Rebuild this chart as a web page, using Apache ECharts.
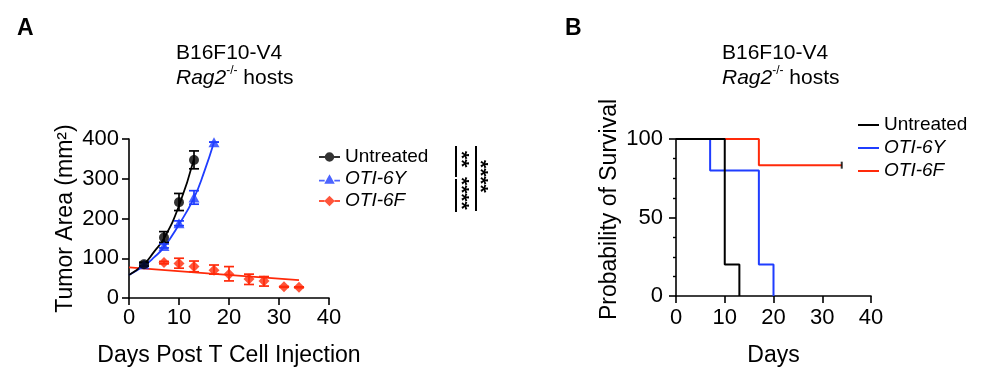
<!DOCTYPE html>
<html>
<head>
<meta charset="utf-8">
<script src="https://cdn.jsdelivr.net/npm/echarts@6/dist/echarts.min.js"></script>
<style>
html,body{margin:0;padding:0;background:#fff;}
#chart{width:1000px;height:384px;}
</style>
</head>
<body>
<div id="chart"></div>
<script>
// ---------- Panel A: tumor growth ----------
const xTicksA = [0, 10, 20, 30, 40];
const yTicksA = [0, 100, 200, 300, 400];

const daysUntreated = [3, 7, 10, 13];
const meanUntreated = [85, 152, 241, 347];
const lowUntreated  = [80, 140, 220, 325];
const highUntreated = [90, 167, 263, 370];

const days6Y = [3, 7, 10, 13, 17];
const mean6Y = [85, 131, 188, 253, 392];
const low6Y  = [82, 126, 182, 236, 392];
const high6Y = [88, 136, 194, 270, 392];

const days6F = [7, 10, 13, 17, 20, 24, 27, 31, 34];
const mean6F = [89, 87, 79, 70, 60, 48, 43, 28, 27];
const low6F  = [86, 75, 66, 60, 43, 34, 30, 27, 26];
const high6F = [92, 100, 93, 83, 79, 60, 54, 29, 28];

// fitted curves, values
const fitDaysUntreated = [0, 3, 5, 7, 10, 13];
const fitUntreated     = [58, 85, 116, 150, 232, 350];
const fitDays6Y = [0, 3, 5, 7, 10, 13, 15, 17];
const fit6Y     = [58, 81, 102, 128, 185, 252, 316, 392];
const fitDays6F = [0, 17, 34];
const fit6F     = [77, 60.5, 45];

// ---------- Panel B: survival ----------
const xTicksB = [0, 10, 20, 30, 40];
const yTicksB = [0, 50, 100];
const survDaysUntreated = [0, 10, 13];
const survUntreated     = [100, 20, 0];
const survDays6Y = [0, 7, 17, 20];
const surv6Y     = [100, 80, 20, 0];
const survDays6F = [0, 17, 34];
const surv6F     = [100, 83.33, 83.33];
const censorDays6F = [34];
const censor6F     = [83.33];

const seriesNames = ['Untreated', 'OTI-6Y', 'OTI-6F'];
const BLACK = '#000000', BLUE = '#1f3dff', RED = '#ff2a0a';
const FONT = '"Liberation Sans", Arial, Helvetica, sans-serif';

const zip = (a, b) => a.map((v, i) => [v, b[i]]);
const zip3 = (a, b, c) => a.map((v, i) => [v, b[i], c[i]]);

function errRender(color) {
  return function (params, api) {
    const x = api.value(0), lo = api.value(1), hi = api.value(2);
    const pLo = api.coord([x, lo]);
    const pHi = api.coord([x, hi]);
    const hw = 5;
    const st = { stroke: color, lineWidth: 1.7 };
    return {
      type: 'group',
      children: [
        { type: 'line', shape: { x1: pLo[0], y1: pLo[1], x2: pHi[0], y2: pHi[1] }, style: st },
        { type: 'line', shape: { x1: pLo[0] - hw, y1: pLo[1], x2: pLo[0] + hw, y2: pLo[1] }, style: st },
        { type: 'line', shape: { x1: pHi[0] - hw, y1: pHi[1], x2: pHi[0] + hw, y2: pHi[1] }, style: st }
      ]
    };
  };
}

const iconCircle = 'path://M0,4.1h5.6v1.8H0z M14.4,4.1H20v1.8h-5.6z M5.5,5a4.5,4.5 0 1,1 9,0a4.5,4.5 0 1,1 -9,0z';
const iconTri = 'path://M0,5.6h5.4v1.8H0z M14.6,5.6H20v1.8h-5.4z M10,0.5L15,9.5H5z';
const iconDia = 'path://M0,4.1h5.2v1.8H0z M14.8,4.1H20v1.8h-5.2z M10,0L15,5L10,10L5,5z';

const axisLineStyle = { color: '#000', width: 1.6 };
const tickLabel = { color: '#000', fontSize: 22, fontFamily: FONT };
const nameStyle = { color: '#000', fontSize: 23, fontFamily: FONT };
const legendText = { color: '#000', fontSize: 19, fontFamily: FONT, lineHeight: 20,
  rich: { i: { fontStyle: 'italic', fontSize: 19, fontFamily: FONT, color: '#000' } } };
const subRich = {
  i: { fontStyle: 'italic', fontSize: 21, fontFamily: FONT, lineHeight: 24, verticalAlign: 'bottom' },
  s: { fontSize: 12, fontFamily: FONT, lineHeight: 24, verticalAlign: 'top' },
  n: { fontSize: 21, fontFamily: FONT, lineHeight: 24, verticalAlign: 'bottom' }
};

const option = {
  animation: false,
  backgroundColor: '#ffffff',
  textStyle: { fontFamily: FONT },
  grid: [
    { left: 129, top: 139, width: 200, height: 159 },
    { left: 676, top: 139, width: 195, height: 157 }
  ],
  xAxis: [
    {
      gridIndex: 0, type: 'value', min: xTicksA[0], max: xTicksA[xTicksA.length - 1], interval: 10,
      axisLine: { lineStyle: axisLineStyle }, axisTick: { length: 7, lineStyle: axisLineStyle },
      axisLabel: { ...tickLabel, margin: 9 }, splitLine: { show: false },
      name: 'Days Post T Cell Injection', nameLocation: 'middle', nameGap: 46, nameTextStyle: nameStyle
    },
    {
      gridIndex: 1, type: 'value', min: xTicksB[0], max: xTicksB[xTicksB.length - 1], interval: 10,
      axisLine: { lineStyle: axisLineStyle }, axisTick: { length: 7, lineStyle: axisLineStyle },
      axisLabel: { ...tickLabel, margin: 11 }, splitLine: { show: false },
      name: 'Days', nameLocation: 'middle', nameGap: 48, nameTextStyle: nameStyle
    }
  ],
  yAxis: [
    {
      gridIndex: 0, type: 'value', min: yTicksA[0], max: yTicksA[yTicksA.length - 1], interval: 100,
      axisLine: { show: true, lineStyle: axisLineStyle }, axisTick: { show: true, length: 7, lineStyle: axisLineStyle },
      axisLabel: { ...tickLabel, margin: 10 }, splitLine: { show: false },
      name: 'Tumor Area (mm²)', nameLocation: 'middle', nameGap: 52, nameTextStyle: nameStyle
    },
    {
      gridIndex: 1, type: 'value', min: yTicksB[0], max: yTicksB[yTicksB.length - 1], interval: 50,
      axisLine: { show: true, lineStyle: axisLineStyle }, axisTick: { show: true, length: 7, lineStyle: axisLineStyle },
      minorTick: { show: true, splitNumber: 4, length: 3, lineStyle: { color: '#000', width: 1.4 } },
      axisLabel: { ...tickLabel, margin: 13 }, splitLine: { show: false },
      name: 'Probability of Survival', nameLocation: 'middle', nameGap: 55,
      nameTextStyle: { ...nameStyle, padding: [0, 0, 0, 16] }
    }
  ],
  legend: [
    {
      orient: 'vertical', left: 314, top: 142, itemWidth: 21, itemHeight: 11, itemGap: 2,
      textStyle: legendText,
      formatter: n => n === 'Untreated' ? n : '{i|' + n + '}',
      data: [
        { name: 'Untreated', icon: iconCircle },
        { name: 'OTI-6Y', icon: iconTri },
        { name: 'OTI-6F', icon: iconDia }
      ]
    },
    {
      orient: 'vertical', left: 853, top: 110, itemWidth: 21, itemHeight: 2, itemGap: 3,
      textStyle: legendText,
      formatter: n => n === 'Untreated ' ? 'Untreated' : '{i|' + n.trim() + '}',
      data: [
        { name: 'Untreated ', icon: 'rect' },
        { name: 'OTI-6Y ', icon: 'rect' },
        { name: 'OTI-6F ', icon: 'rect' }
      ]
    }
  ],
  graphic: [
    { type: 'text', left: 17, top: 17, style: { text: 'A', font: 'bold 23px ' + FONT, fill: '#000' } },
    { type: 'text', left: 565, top: 17, style: { text: 'B', font: 'bold 23px ' + FONT, fill: '#000' } },
    { type: 'text', left: 176, top: 43, style: { text: 'B16F10-V4', font: '21px ' + FONT, fill: '#000' } },
    { type: 'text', left: 176, top: 65, style: { text: '{i|Rag2}{s|-/-}{n| hosts}', fill: '#000', rich: subRich } },
    { type: 'text', left: 722, top: 43, style: { text: 'B16F10-V4', font: '21px ' + FONT, fill: '#000' } },
    { type: 'text', left: 722, top: 65, style: { text: '{i|Rag2}{s|-/-}{n| hosts}', fill: '#000', rich: subRich } },
    // significance brackets
    { type: 'line', shape: { x1: 456, y1: 146, x2: 456, y2: 177 }, style: { stroke: '#000', lineWidth: 2 } },
    { type: 'line', shape: { x1: 456, y1: 179, x2: 456, y2: 212 }, style: { stroke: '#000', lineWidth: 2 } },
    { type: 'line', shape: { x1: 476, y1: 146, x2: 476, y2: 211 }, style: { stroke: '#000', lineWidth: 2 } },
    { type: 'text', x: 461, y: 151, rotation: -Math.PI / 2, style: { text: '**', font: 'bold 21px ' + FONT, fill: '#000', align: 'left', verticalAlign: 'middle' } },
    { type: 'text', x: 461, y: 177, rotation: -Math.PI / 2, style: { text: '****', font: 'bold 21px ' + FONT, fill: '#000', align: 'left', verticalAlign: 'middle' } },
    { type: 'text', x: 480, y: 160, rotation: -Math.PI / 2, style: { text: '****', font: 'bold 21px ' + FONT, fill: '#000', align: 'left', verticalAlign: 'middle' } }
  ],
  series: [
    // fit lines
    { type: 'line', xAxisIndex: 0, yAxisIndex: 0, data: zip(fitDays6F, fit6F), showSymbol: false, symbol: 'none', smooth: true, lineStyle: { color: RED, width: 1.8 }, z: 2, silent: true },
    { type: 'line', xAxisIndex: 0, yAxisIndex: 0, data: zip(fitDays6Y, fit6Y), showSymbol: false, symbol: 'none', smooth: true, lineStyle: { color: BLUE, width: 1.8 }, z: 2, silent: true },
    { type: 'line', xAxisIndex: 0, yAxisIndex: 0, data: zip(fitDaysUntreated, fitUntreated), showSymbol: false, symbol: 'none', smooth: true, lineStyle: { color: BLACK, width: 1.8 }, z: 2, silent: true },
    // error bars
    { type: 'custom', xAxisIndex: 0, yAxisIndex: 0, data: zip3(days6F, low6F, high6F), renderItem: errRender(RED), encode: { x: 0, y: [1, 2] }, z: 3 },
    { type: 'custom', xAxisIndex: 0, yAxisIndex: 0, data: zip3(days6Y, low6Y, high6Y), renderItem: errRender(BLUE), encode: { x: 0, y: [1, 2] }, z: 3 },
    { type: 'custom', xAxisIndex: 0, yAxisIndex: 0, data: zip3(daysUntreated, lowUntreated, highUntreated), renderItem: errRender(BLACK), encode: { x: 0, y: [1, 2] }, z: 3 },
    // points
    { name: seriesNames[2], type: 'scatter', xAxisIndex: 0, yAxisIndex: 0, data: zip(days6F, mean6F), symbol: 'diamond', symbolSize: [11, 11], itemStyle: { color: RED }, z: 4 },
    { name: seriesNames[1], type: 'scatter', xAxisIndex: 0, yAxisIndex: 0, data: zip(days6Y, mean6Y), symbol: 'triangle', symbolSize: [11, 10], itemStyle: { color: BLUE }, z: 4 },
    { name: seriesNames[0], type: 'scatter', xAxisIndex: 0, yAxisIndex: 0, data: zip(daysUntreated, meanUntreated), symbol: 'circle', symbolSize: 10, itemStyle: { color: BLACK }, z: 5 },
    // survival
    { name: 'OTI-6F ', type: 'line', xAxisIndex: 1, yAxisIndex: 1, step: 'end', data: zip(survDays6F, surv6F), showSymbol: false, symbol: 'none', lineStyle: { color: RED, width: 2 }, itemStyle: { color: RED }, z: 2 },
    { name: 'OTI-6Y ', type: 'line', xAxisIndex: 1, yAxisIndex: 1, step: 'end', data: zip(survDays6Y, surv6Y), showSymbol: false, symbol: 'none', lineStyle: { color: BLUE, width: 2 }, itemStyle: { color: BLUE }, z: 3 },
    { name: 'Untreated ', type: 'line', xAxisIndex: 1, yAxisIndex: 1, step: 'end', data: zip(survDaysUntreated, survUntreated), showSymbol: false, symbol: 'none', lineStyle: { color: BLACK, width: 2 }, itemStyle: { color: BLACK }, z: 4 },
    { type: 'scatter', xAxisIndex: 1, yAxisIndex: 1, data: zip(censorDays6F, censor6F), symbol: 'rect', symbolSize: [2, 7], itemStyle: { color: '#000' }, z: 5, silent: true }
  ]
};

const chart = echarts.init(document.getElementById('chart'), null, { renderer: 'canvas' });
chart.setOption(option);
</script>
</body>
</html>
